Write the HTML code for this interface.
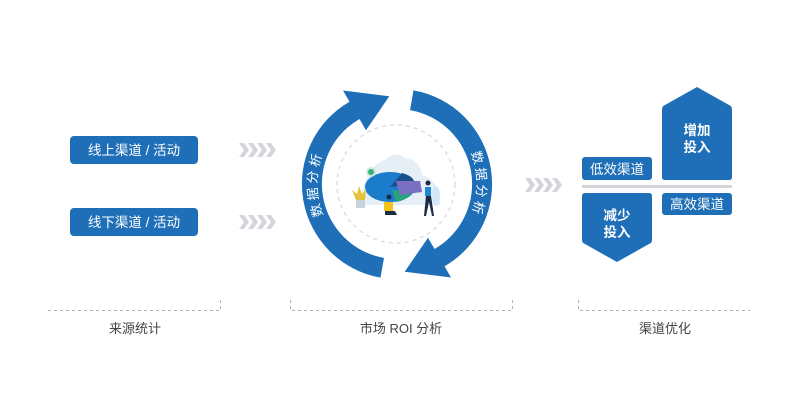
<!DOCTYPE html>
<html><head><meta charset="utf-8"><style>
html,body{margin:0;padding:0;background:#fff;}
body{width:800px;height:400px;overflow:hidden;font-family:"Liberation Sans","Noto Sans CJK SC",sans-serif;}
</style></head><body>
<svg width="800" height="400" viewBox="0 0 800 400" xmlns="http://www.w3.org/2000/svg" font-family="Liberation Sans, Noto Sans CJK SC, sans-serif">
<defs>
<g id="chev"><path d="M0 0 h5 l5 7 l-5 7 h-5 l5 -7z" fill="#d3d5da"/></g>
<path id="pl" d="M340.4 240.6 A80 80 0 0 1 340.4 127.4"/>
<path id="pr" d="M453.6 127.4 A80 80 0 0 1 453.6 240.6"/>
</defs>
<!-- left boxes -->
<rect x="70" y="136" width="128" height="28" rx="4" fill="#1e6fb8"/>
<text x="134" y="155" font-size="13.5" fill="#fff" text-anchor="middle">线上渠道 / 活动</text>
<rect x="70" y="208" width="128" height="28" rx="4" fill="#1e6fb8"/>
<text x="134" y="227" font-size="13.5" fill="#fff" text-anchor="middle">线下渠道 / 活动</text>
<!-- chevrons -->
<g transform="translate(239,143)"><use href="#chev"/><use href="#chev" x="9"/><use href="#chev" x="18"/><use href="#chev" x="27"/></g>
<g transform="translate(239,215)"><use href="#chev"/><use href="#chev" x="9"/><use href="#chev" x="18"/><use href="#chev" x="27"/></g>
<g transform="translate(525,178)"><use href="#chev"/><use href="#chev" x="9"/><use href="#chev" x="18"/><use href="#chev" x="27"/></g>
<!-- cycle arrows -->
<g fill="#1e6fb8">
<path d="M380.5 277.6 A95 95 0 0 1 349.5 101.7 L343 90.5 L389.3 96.3 L366 130.3 L359.5 119 A75 75 0 0 0 384 257.9 Z"/>
<path d="M380.5 277.6 A95 95 0 0 1 349.5 101.7 L343 90.5 L389.3 96.3 L366 130.3 L359.5 119 A75 75 0 0 0 384 257.9 Z" transform="rotate(180 397 184)"/>
</g>
<text font-size="13" fill="#fff" letter-spacing="3"><textPath href="#pl" startOffset="50%" text-anchor="middle">数据分析</textPath></text>
<text font-size="13" fill="#fff" letter-spacing="3"><textPath href="#pr" startOffset="50%" text-anchor="middle">数据分析</textPath></text>
<circle cx="396" cy="184" r="59" fill="none" stroke="#d8d8d8" stroke-width="1.2" stroke-dasharray="4 4"/>
<!-- illustration -->
<path d="M360 205 Q365 165 385 160 Q395 150 405 158 Q420 160 422 175 Q440 180 440 205 Z" fill="#e6eef6"/>
<ellipse cx="390" cy="187" rx="25" ry="15" fill="#1c7ccc"/>
<path d="M390 187 L415 184 Q414 176 402 173 Z" fill="#17508a"/>
<path d="M392 190 L412 192 Q408 200 396 202 Z" fill="#2aa37a"/>
<path d="M396 181 L420 181 L422 192 L400 195 Z" fill="#7b6fc2"/>
<circle cx="371" cy="172" r="5" fill="#cfe8dc"/><circle cx="371" cy="172" r="3" fill="#38b07a"/>
<path d="M356 200 l-4 -10 l5 4 l2 -8 l3 8 l4 -5 l-1 11z" fill="#e2c43a"/>
<rect x="356" y="200" width="9" height="8" fill="#c9d3de"/>
<circle cx="389" cy="197" r="2.5" fill="#1b2b45"/>
<path d="M384 202 h9 v9 h-9z" fill="#f2c21a"/><path d="M385 211 h10 l2 4 h-12z" fill="#1b2b45"/>
<circle cx="428" cy="183" r="2.5" fill="#1b2b45"/>
<path d="M425 187 h6 v9 h-6z" fill="#1e88d0"/><path d="M426 196 l-2 20 h2 l3 -14 l3 14 h2 l-3 -20z" fill="#1b2b45"/>
<ellipse cx="436" cy="196" rx="4" ry="10" fill="#d3e6f5"/>
<!-- right side -->
<rect x="582" y="157" width="70" height="23" rx="3" fill="#1e6fb8"/>
<text x="617" y="174" font-size="13.5" fill="#fff" text-anchor="middle">低效渠道</text>
<path d="M665 105 L697 87 L729 105 Q732 106 732 110 V177 Q732 180 729 180 H665 Q662 180 662 177 V110 Q662 106 665 105Z" fill="#1e6fb8"/>
<text x="697" y="135" font-size="13.5" fill="#fff" text-anchor="middle" font-weight="bold">增加</text>
<text x="697" y="152" font-size="13.5" fill="#fff" text-anchor="middle" font-weight="bold">投入</text>
<rect x="582" y="185" width="150" height="3" fill="#d3d5da"/>
<rect x="662" y="193" width="70" height="22" rx="3" fill="#1e6fb8"/>
<text x="697" y="209" font-size="13.5" fill="#fff" text-anchor="middle">高效渠道</text>
<path d="M585 193 H649 Q652 193 652 196 V240 Q652 243 649 244 L617 262 L585 244 Q582 243 582 240 V196 Q582 193 585 193Z" fill="#1e6fb8"/>
<text x="617" y="220" font-size="13.5" fill="#fff" text-anchor="middle" font-weight="bold">减少</text>
<text x="617" y="237" font-size="13.5" fill="#fff" text-anchor="middle" font-weight="bold">投入</text>
<!-- brackets -->
<g fill="none" stroke="#b5b5b5" stroke-width="1" stroke-dasharray="3 3">
<path d="M48 310.5 H220.5 V300"/>
<path d="M290.5 300 V310.5 H512.5 V300"/>
<path d="M578.5 300 V310.5 H750"/>
</g>
<g font-size="13" fill="#444" text-anchor="middle">
<text x="135" y="333">来源统计</text>
<text x="401" y="333">市场 ROI 分析</text>
<text x="665" y="333">渠道优化</text>
</g>
</svg>
</body></html>
